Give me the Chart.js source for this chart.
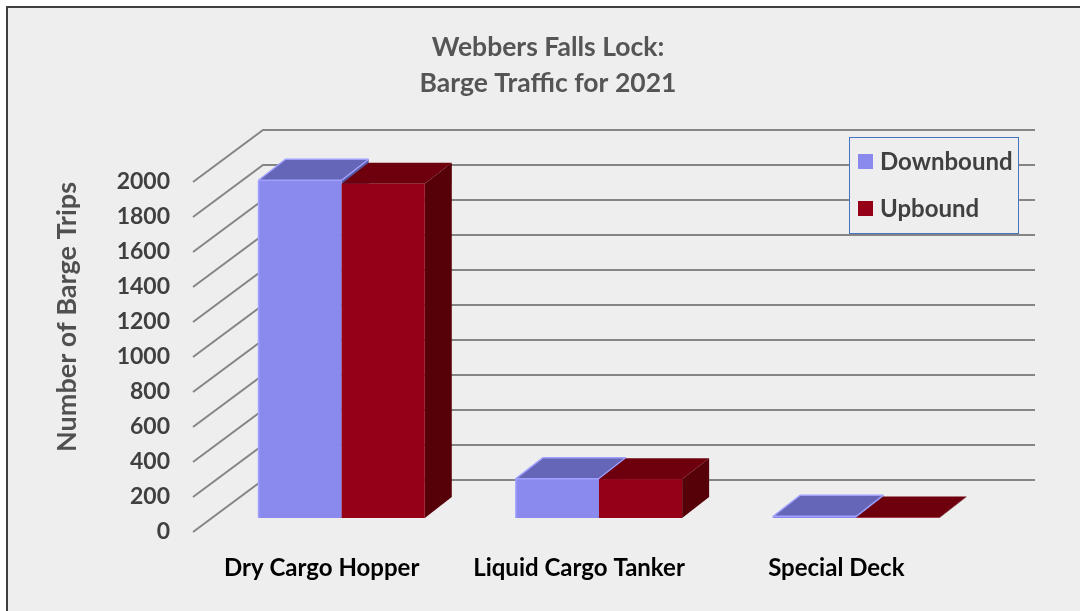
<!DOCTYPE html>
<html lang="en">
<head>
<meta charset="UTF-8" />
<meta name="viewport" content="width=device-width, initial-scale=1.0" />
<script src="https://cdn.jsdelivr.net/npm/chart.js@4.4.0/dist/chart.umd.min.js"></script>
<title>Webbers Falls Lock</title>
<style>
  body { margin: 0; background: #fff; }
  canvas { display: block; }
</style>
</head>
<body>
<canvas id="myChart" width="1080" height="611"></canvas>
<script>
const categories = ["Dry Cargo Hopper", "Liquid Cargo Tanker", "Special Deck"];
const downbound = [1930, 225, 10];
const upbound = [1910, 222, 3];
const yMax = 2000;
const yStep = 200;
const titleLines = ["Webbers Falls Lock:", "Barge Traffic for 2021"];

// oblique 3d offsets (px)
const wallDepth = { dx: 70, dy: -52 };
const barShift = { dx: 20, dy: -14 };
const barDepth = { dx: 27, dy: -21 };

const FONT = "Lato";

function poly(ctx, pts, fill) {
  ctx.beginPath();
  ctx.moveTo(pts[0][0], pts[0][1]);
  for (let i = 1; i < pts.length; i++) ctx.lineTo(pts[i][0], pts[i][1]);
  ctx.closePath();
  ctx.fillStyle = fill;
  ctx.fill();
}

const bars3d = {
  id: "bars3d",
  beforeDraw(chart) {
    const ctx = chart.ctx;
    ctx.save();
    ctx.fillStyle = "#ffffff";
    ctx.fillRect(0, 0, chart.width, chart.height);
    ctx.fillStyle = "#eeeeee";
    ctx.fillRect(7, 7, chart.width, chart.height);
    ctx.strokeStyle = "#404040";
    ctx.lineWidth = 2;
    ctx.beginPath();
    ctx.moveTo(7, chart.height);
    ctx.lineTo(7, 7);
    ctx.lineTo(chart.width, 7);
    ctx.stroke();
    // title
    ctx.fillStyle = "#555555";
    ctx.font = "bold 26.5px " + FONT;
    ctx.textAlign = "center";
    ctx.textBaseline = "middle";
    titleLines.forEach((t, i) => ctx.fillText(t, 548, 47 + i * 36));
    ctx.restore();
  },
  beforeDatasetsDraw(chart) {
    const { ctx, chartArea: a, scales: { y } } = chart;
    ctx.save();
    // side and back wall grid
    ctx.strokeStyle = "#858585";
    ctx.lineWidth = 2;
    y.ticks.forEach((t) => {
      const py = Math.round(y.getPixelForValue(t.value));
      ctx.beginPath();
      ctx.moveTo(a.left, py);
      ctx.lineTo(a.left + wallDepth.dx, py + wallDepth.dy);
      ctx.lineTo(a.right + wallDepth.dx, py + wallDepth.dy);
      ctx.stroke();
    });
    // boxes, left to right
    const dx = barDepth.dx, dy = barDepth.dy;
    categories.forEach((c, idx) => {
      chart.data.datasets.forEach((ds, di) => {
        const el = chart.getDatasetMeta(di).data[idx];
        const x0 = el.x - el.width / 2 + barShift.dx;
        const x1 = el.x + el.width / 2 + barShift.dx;
        const yt = el.y + barShift.dy;
        const yb = el.base + barShift.dy;
        poly(ctx, [[x1, yb], [x1 + dx, yb + dy], [x1 + dx, yt + dy], [x1, yt]], ds.sideColor);
        poly(ctx, [[x0, yt], [x0 + dx, yt + dy], [x1 + dx, yt + dy], [x1, yt]], ds.topColor);
        ctx.fillStyle = ds.backgroundColor;
        ctx.fillRect(x0, yt, x1 - x0, yb - yt);
        if (ds.edgeColor) {
          ctx.strokeStyle = ds.edgeColor;
          ctx.lineWidth = 1.5;
          ctx.beginPath();
          ctx.moveTo(x0, yb);
          ctx.lineTo(x0, yt);
          ctx.lineTo(x0 + dx, yt + dy);
          ctx.lineTo(x1 + dx, yt + dy);
          ctx.moveTo(x0, yt);
          ctx.lineTo(x1, yt);
          ctx.lineTo(x1 + dx, yt + dy);
          ctx.stroke();
        }
      });
    });
    ctx.restore();
    return false;
  },
  afterDraw(chart) {
    const ctx = chart.ctx;
    ctx.save();
    const bx = 849, by = 137, bw = 169, bh = 96;
    ctx.fillStyle = "#eeeeee";
    ctx.fillRect(bx, by, bw, bh);
    ctx.strokeStyle = "#4472c4";
    ctx.lineWidth = 1;
    ctx.strokeRect(bx + 0.5, by + 0.5, bw, bh);
    ctx.font = "bold 24px " + FONT;
    ctx.textBaseline = "middle";
    ctx.textAlign = "left";
    chart.data.datasets.forEach((ds, i) => {
      const cy = by + 25 + i * 47;
      ctx.fillStyle = ds.backgroundColor;
      ctx.fillRect(bx + 9, cy - 8, 15, 15);
      ctx.fillStyle = "#404040";
      ctx.fillText(ds.label, bx + 31, cy);
    });
    ctx.restore();
  }
};

const ctx = document.getElementById("myChart").getContext("2d");
const myChart = new Chart(ctx, {
  type: "bar",
  data: {
    labels: categories,
    datasets: [
      {
        label: "Downbound",
        data: downbound,
        backgroundColor: "#8a8aee",
        topColor: "#6666b8",
        sideColor: "#5656a0",
        edgeColor: "#a0a0ff"
      },
      {
        label: "Upbound",
        data: upbound,
        backgroundColor: "#960016",
        topColor: "#6e000e",
        sideColor: "#560008"
      }
    ]
  },
  plugins: [bars3d],
  options: {
    responsive: false,
    animation: false,
    layout: { padding: { top: 182, left: 10, right: 115, bottom: 0 } },
    datasets: { bar: { barPercentage: 1, categoryPercentage: 0.646 } },
    plugins: {
      legend: { display: false },
      tooltip: { enabled: false },
      title: { display: false }
    },
    scales: {
      x: {
        grid: { display: false, drawTicks: false },
        border: { display: false },
        ticks: { color: "#000", padding: 21.6, font: { family: FONT, size: 24, weight: "bold" } },
        afterFit(scale) { scale.height = 79; }
      },
      y: {
        min: 0,
        max: yMax,
        grid: { display: false, drawTicks: false },
        border: { display: false },
        ticks: {
          stepSize: yStep,
          color: "#404040",
          padding: 23,
          font: { family: FONT, size: 23, weight: "bold" },
          callback: (v) => String(v)
        },
        title: {
          display: true,
          text: "Number of Barge Trips",
          align: "end",
          color: "#505050",
          font: { family: FONT, size: 27, weight: "bold" },
          padding: { top: 40.8, bottom: 0 }
        },
        afterFit(scale) { scale.width = 183; }
      }
    }
  }
});
</script>
</body>
</html>
